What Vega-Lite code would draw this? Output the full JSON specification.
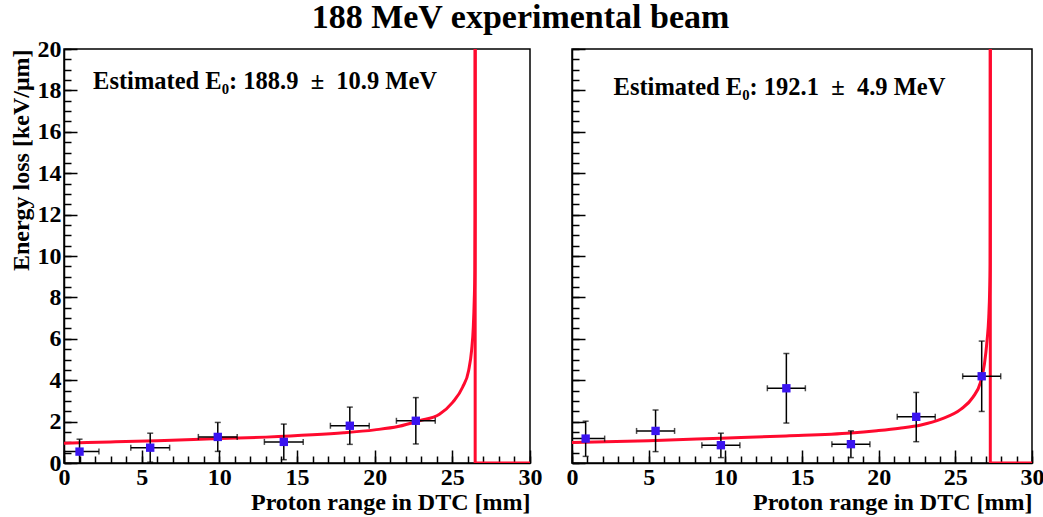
{
  "$schema": "https://vega.github.io/schema/vega-lite/v6.json",
  "padding": {"left": 8, "top": 1, "right": 0, "bottom": 0},
  "background": "white",
  "title": {"text": "188 MeV experimental beam", "font": "Liberation Serif", "fontSize": 34, "fontWeight": "bold", "color": "black", "anchor": "middle", "offset": 1, "dx": -6},
  "config": {
    "view": {"stroke": "black", "strokeWidth": 1.5},
    "font": "Liberation Serif",
    "axis": {
      "grid": false, "domainColor": "black", "domainWidth": 1.5, "tickColor": "black", "tickWidth": 1.5,
      "labelFont": "Liberation Serif", "labelFontSize": 24, "labelFontWeight": "bold", "labelColor": "black",
      "titleFont": "Liberation Serif", "titleFontSize": 24, "titleFontWeight": "bold", "titleColor": "black",
      "labelFlush": false, "labelOverlap": false
    }
  },
  "datasets": {
    "curve": [
      {"panel": "L", "o": 1, "x": 0, "y": 0.96}, {"panel": "L", "o": 2, "x": 3, "y": 1.02}, {"panel": "L", "o": 3, "x": 6, "y": 1.08},
      {"panel": "L", "o": 4, "x": 10, "y": 1.18}, {"panel": "L", "o": 5, "x": 13, "y": 1.25}, {"panel": "L", "o": 6, "x": 16, "y": 1.36},
      {"panel": "L", "o": 7, "x": 18, "y": 1.46}, {"panel": "L", "o": 8, "x": 20, "y": 1.6}, {"panel": "L", "o": 9, "x": 21.5, "y": 1.76},
      {"panel": "L", "o": 10, "x": 22.88, "y": 2.04}, {"panel": "L", "o": 11, "x": 24.17, "y": 2.36}, {"panel": "L", "o": 12, "x": 25.02, "y": 2.93},
      {"panel": "L", "o": 13, "x": 25.66, "y": 3.66}, {"panel": "L", "o": 14, "x": 26.05, "y": 4.47}, {"panel": "L", "o": 15, "x": 26.24, "y": 5.44},
      {"panel": "L", "o": 16, "x": 26.35, "y": 6.57}, {"panel": "L", "o": 17, "x": 26.41, "y": 7.86}, {"panel": "L", "o": 18, "x": 26.45, "y": 9.3},
      {"panel": "L", "o": 19, "x": 26.465, "y": 12}, {"panel": "L", "o": 20, "x": 26.47, "y": 20},
      {"panel": "R", "o": 1, "x": 0, "y": 0.99}, {"panel": "R", "o": 2, "x": 5, "y": 1.08}, {"panel": "R", "o": 3, "x": 9.72, "y": 1.2},
      {"panel": "R", "o": 4, "x": 13.96, "y": 1.31}, {"panel": "R", "o": 5, "x": 18.19, "y": 1.45}, {"panel": "R", "o": 6, "x": 19.88, "y": 1.56},
      {"panel": "R", "o": 7, "x": 21.36, "y": 1.68}, {"panel": "R", "o": 8, "x": 22.76, "y": 1.84}, {"panel": "R", "o": 9, "x": 24.07, "y": 2.12},
      {"panel": "R", "o": 10, "x": 25.37, "y": 2.6}, {"panel": "R", "o": 11, "x": 26.14, "y": 3.17}, {"panel": "R", "o": 12, "x": 26.64, "y": 3.9},
      {"panel": "R", "o": 13, "x": 26.9, "y": 4.79}, {"panel": "R", "o": 14, "x": 27.07, "y": 5.92}, {"panel": "R", "o": 15, "x": 27.18, "y": 7.05},
      {"panel": "R", "o": 16, "x": 27.24, "y": 8.35}, {"panel": "R", "o": 17, "x": 27.27, "y": 9.6}, {"panel": "R", "o": 18, "x": 27.275, "y": 12},
      {"panel": "R", "o": 19, "x": 27.28, "y": 20}
    ],
    "drop": [
      {"panel": "L", "o": 1, "x": 26.47, "y": 20}, {"panel": "L", "o": 2, "x": 26.47, "y": 0}, {"panel": "L", "o": 3, "x": 30, "y": 0},
      {"panel": "R", "o": 1, "x": 27.28, "y": 20}, {"panel": "R", "o": 2, "x": 27.28, "y": 0}, {"panel": "R", "o": 3, "x": 30, "y": 0}
    ],
    "pts": [
      {"panel": "L", "x": 1.0, "y": 0.55, "xlo": -0.25, "xhi": 2.25, "ylo": -0.05, "yhi": 1.15},
      {"panel": "L", "x": 5.55, "y": 0.74, "xlo": 4.3, "xhi": 6.8, "ylo": 0.04, "yhi": 1.44},
      {"panel": "L", "x": 9.9, "y": 1.26, "xlo": 8.65, "xhi": 11.15, "ylo": 0.56, "yhi": 1.96},
      {"panel": "L", "x": 14.15, "y": 1.02, "xlo": 12.9, "xhi": 15.4, "ylo": 0.16, "yhi": 1.88},
      {"panel": "L", "x": 18.4, "y": 1.8, "xlo": 17.15, "xhi": 19.65, "ylo": 0.9, "yhi": 2.7},
      {"panel": "L", "x": 22.65, "y": 2.04, "xlo": 21.4, "xhi": 23.9, "ylo": 0.92, "yhi": 3.16},
      {"panel": "R", "x": 0.89, "y": 1.18, "xlo": -0.35, "xhi": 2.13, "ylo": 0.32, "yhi": 2.02},
      {"panel": "R", "x": 5.45, "y": 1.55, "xlo": 4.21, "xhi": 6.69, "ylo": 0.55, "yhi": 2.56},
      {"panel": "R", "x": 9.71, "y": 0.86, "xlo": 8.47, "xhi": 10.95, "ylo": 0.26, "yhi": 1.44},
      {"panel": "R", "x": 13.98, "y": 3.61, "xlo": 12.74, "xhi": 15.22, "ylo": 1.93, "yhi": 5.29},
      {"panel": "R", "x": 18.19, "y": 0.91, "xlo": 16.95, "xhi": 19.43, "ylo": 0.26, "yhi": 1.55},
      {"panel": "R", "x": 22.45, "y": 2.23, "xlo": 21.21, "xhi": 23.69, "ylo": 1.03, "yhi": 3.41},
      {"panel": "R", "x": 26.72, "y": 4.19, "xlo": 25.48, "xhi": 27.96, "ylo": 2.49, "yhi": 5.89}
    ],
    "ann": [
      {"panel": "L", "x": 1.87, "y": 18.08, "label": "Estimated E₀: 188.9\u00a0 ±\u00a0 10.9 MeV"},
      {"panel": "R", "x": 2.71, "y": 17.8, "label": "Estimated E₀: 192.1\u00a0 ±\u00a0 4.9 MeV"}
    ]
  },
  "bounds": "flush",
  "spacing": 42,
  "hconcat": [
    {
      "width": 466, "height": 414,
      "resolve": {"axis": {"x": "independent", "y": "independent"}},
      "layer": [
        {"data": {"name": "curve"}, "transform": [{"filter": "datum.panel === 'L'"}],
         "mark": {"type": "line", "color": "#ff0a2e", "strokeWidth": 3, "clip": true, "interpolate": "monotone"},
         "encoding": {
           "x": {"field": "x", "type": "quantitative", "scale": {"domain": [0, 30], "nice": false, "zero": false},
             "axis": {"values": [0, 5, 10, 15, 20, 25, 30], "orient": "bottom", "tickSize": -13, "labelOverlap": false, "labelFlush": false,
               "labelPadding": 15, "title": "Proton range in DTC [mm]", "titleAnchor": "end", "titlePadding": 1}},
           "y": {"field": "y", "type": "quantitative", "scale": {"domain": [0, 20], "nice": false, "zero": false},
             "axis": {"values": [0, 2, 4, 6, 8, 10, 12, 14, 16, 18, 20], "orient": "left", "tickSize": -13, "labelOverlap": false, "labelPadding": 16,
               "title": "Energy loss [keV/μm]", "titleAnchor": "end", "titlePadding": 4}},
           "order": {"field": "o", "type": "quantitative"}
         }},
        {"data": {"name": "drop"}, "transform": [{"filter": "datum.panel === 'L'"}],
         "mark": {"type": "line", "color": "#ff0a2e", "strokeWidth": 3, "clip": true},
         "encoding": {
           "x": {"field": "x", "type": "quantitative",
             "axis": {"values": [0,1,2,3,4,5,6,7,8,9,10,11,12,13,14,15,16,17,18,19,20,21,22,23,24,25,26,27,28,29,30], "orient": "bottom", "tickSize": -7, "labels": false, "domain": false, "title": null}},
           "y": {"field": "y", "type": "quantitative",
             "axis": {"values": [0,0.5,1,1.5,2,2.5,3,3.5,4,4.5,5,5.5,6,6.5,7,7.5,8,8.5,9,9.5,10,10.5,11,11.5,12,12.5,13,13.5,14,14.5,15,15.5,16,16.5,17,17.5,18,18.5,19,19.5,20], "orient": "left", "tickSize": -7, "labels": false, "domain": false, "title": null}},
           "order": {"field": "o", "type": "quantitative"}}},
        {"data": {"name": "pts"}, "transform": [{"filter": "datum.panel === 'L'"}],
         "mark": {"type": "rule", "color": "black", "strokeWidth": 1.5, "clip": true},
         "encoding": {"x": {"field": "xlo", "type": "quantitative", "axis": null}, "x2": {"field": "xhi"}, "y": {"field": "y", "type": "quantitative", "axis": null}}},
        {"data": {"name": "pts"}, "transform": [{"filter": "datum.panel === 'L'"}],
         "mark": {"type": "rule", "color": "black", "strokeWidth": 1.5, "clip": true},
         "encoding": {"x": {"field": "x", "type": "quantitative", "axis": null}, "y": {"field": "ylo", "type": "quantitative", "axis": null}, "y2": {"field": "yhi"}}},
        {"data": {"name": "pts"}, "transform": [{"filter": "datum.panel === 'L'"}, {"fold": ["xlo", "xhi"], "as": ["k", "xe"]}],
         "mark": {"type": "tick", "orient": "vertical", "color": "black", "size": 6, "thickness": 1.5, "clip": true},
         "encoding": {"x": {"field": "xe", "type": "quantitative", "axis": null}, "y": {"field": "y", "type": "quantitative", "axis": null}}},
        {"data": {"name": "pts"}, "transform": [{"filter": "datum.panel === 'L'"}, {"fold": ["ylo", "yhi"], "as": ["k", "ye"]}],
         "mark": {"type": "tick", "orient": "horizontal", "color": "black", "size": 6, "thickness": 1.5, "clip": true},
         "encoding": {"x": {"field": "x", "type": "quantitative", "axis": null}, "y": {"field": "ye", "type": "quantitative", "axis": null}}},
        {"data": {"name": "pts"}, "transform": [{"filter": "datum.panel === 'L'"}],
         "mark": {"type": "square", "color": "#3a14f0", "opacity": 1, "size": 70, "filled": true},
         "encoding": {"x": {"field": "x", "type": "quantitative", "axis": null}, "y": {"field": "y", "type": "quantitative", "axis": null}}},
        {"data": {"name": "ann"}, "transform": [{"filter": "datum.panel === 'L'"}],
         "mark": {"type": "text", "align": "left", "baseline": "alphabetic", "font": "Liberation Serif", "fontSize": 24.5, "fontWeight": "bold", "color": "black"},
         "encoding": {"x": {"field": "x", "type": "quantitative", "axis": null}, "y": {"field": "y", "type": "quantitative", "axis": null}, "text": {"field": "label"}}}
      ]
    },
    {
      "width": 460, "height": 414,
      "resolve": {"axis": {"x": "independent", "y": "independent"}},
      "layer": [
        {"data": {"name": "curve"}, "transform": [{"filter": "datum.panel === 'R'"}],
         "mark": {"type": "line", "color": "#ff0a2e", "strokeWidth": 3, "clip": true, "interpolate": "monotone"},
         "encoding": {
           "x": {"field": "x", "type": "quantitative", "scale": {"domain": [0, 30], "nice": false, "zero": false},
             "axis": {"values": [0, 5, 10, 15, 20, 25, 30], "orient": "bottom", "tickSize": -13, "labelOverlap": false, "labelFlush": false,
               "labelPadding": 15, "title": "Proton range in DTC [mm]", "titleAnchor": "end", "titlePadding": 1}},
           "y": {"field": "y", "type": "quantitative", "scale": {"domain": [0, 20], "nice": false, "zero": false},
             "axis": {"values": [0, 2, 4, 6, 8, 10, 12, 14, 16, 18, 20], "orient": "left", "tickSize": -13, "labels": false, "title": null}},
           "order": {"field": "o", "type": "quantitative"}
         }},
        {"data": {"name": "drop"}, "transform": [{"filter": "datum.panel === 'R'"}],
         "mark": {"type": "line", "color": "#ff0a2e", "strokeWidth": 3, "clip": true},
         "encoding": {
           "x": {"field": "x", "type": "quantitative",
             "axis": {"values": [0,1,2,3,4,5,6,7,8,9,10,11,12,13,14,15,16,17,18,19,20,21,22,23,24,25,26,27,28,29,30], "orient": "bottom", "tickSize": -7, "labels": false, "domain": false, "title": null}},
           "y": {"field": "y", "type": "quantitative",
             "axis": {"values": [0,0.5,1,1.5,2,2.5,3,3.5,4,4.5,5,5.5,6,6.5,7,7.5,8,8.5,9,9.5,10,10.5,11,11.5,12,12.5,13,13.5,14,14.5,15,15.5,16,16.5,17,17.5,18,18.5,19,19.5,20], "orient": "left", "tickSize": -7, "labels": false, "domain": false, "title": null}},
           "order": {"field": "o", "type": "quantitative"}}},
        {"data": {"name": "pts"}, "transform": [{"filter": "datum.panel === 'R'"}],
         "mark": {"type": "rule", "color": "black", "strokeWidth": 1.5, "clip": true},
         "encoding": {"x": {"field": "xlo", "type": "quantitative", "axis": null}, "x2": {"field": "xhi"}, "y": {"field": "y", "type": "quantitative", "axis": null}}},
        {"data": {"name": "pts"}, "transform": [{"filter": "datum.panel === 'R'"}],
         "mark": {"type": "rule", "color": "black", "strokeWidth": 1.5, "clip": true},
         "encoding": {"x": {"field": "x", "type": "quantitative", "axis": null}, "y": {"field": "ylo", "type": "quantitative", "axis": null}, "y2": {"field": "yhi"}}},
        {"data": {"name": "pts"}, "transform": [{"filter": "datum.panel === 'R'"}, {"fold": ["xlo", "xhi"], "as": ["k", "xe"]}],
         "mark": {"type": "tick", "orient": "vertical", "color": "black", "size": 6, "thickness": 1.5, "clip": true},
         "encoding": {"x": {"field": "xe", "type": "quantitative", "axis": null}, "y": {"field": "y", "type": "quantitative", "axis": null}}},
        {"data": {"name": "pts"}, "transform": [{"filter": "datum.panel === 'R'"}, {"fold": ["ylo", "yhi"], "as": ["k", "ye"]}],
         "mark": {"type": "tick", "orient": "horizontal", "color": "black", "size": 6, "thickness": 1.5, "clip": true},
         "encoding": {"x": {"field": "x", "type": "quantitative", "axis": null}, "y": {"field": "ye", "type": "quantitative", "axis": null}}},
        {"data": {"name": "pts"}, "transform": [{"filter": "datum.panel === 'R'"}],
         "mark": {"type": "square", "color": "#3a14f0", "opacity": 1, "size": 70, "filled": true},
         "encoding": {"x": {"field": "x", "type": "quantitative", "axis": null}, "y": {"field": "y", "type": "quantitative", "axis": null}}},
        {"data": {"name": "ann"}, "transform": [{"filter": "datum.panel === 'R'"}],
         "mark": {"type": "text", "align": "left", "baseline": "alphabetic", "font": "Liberation Serif", "fontSize": 24.5, "fontWeight": "bold", "color": "black"},
         "encoding": {"x": {"field": "x", "type": "quantitative", "axis": null}, "y": {"field": "y", "type": "quantitative", "axis": null}, "text": {"field": "label"}}}
      ]
    }
  ]
}
